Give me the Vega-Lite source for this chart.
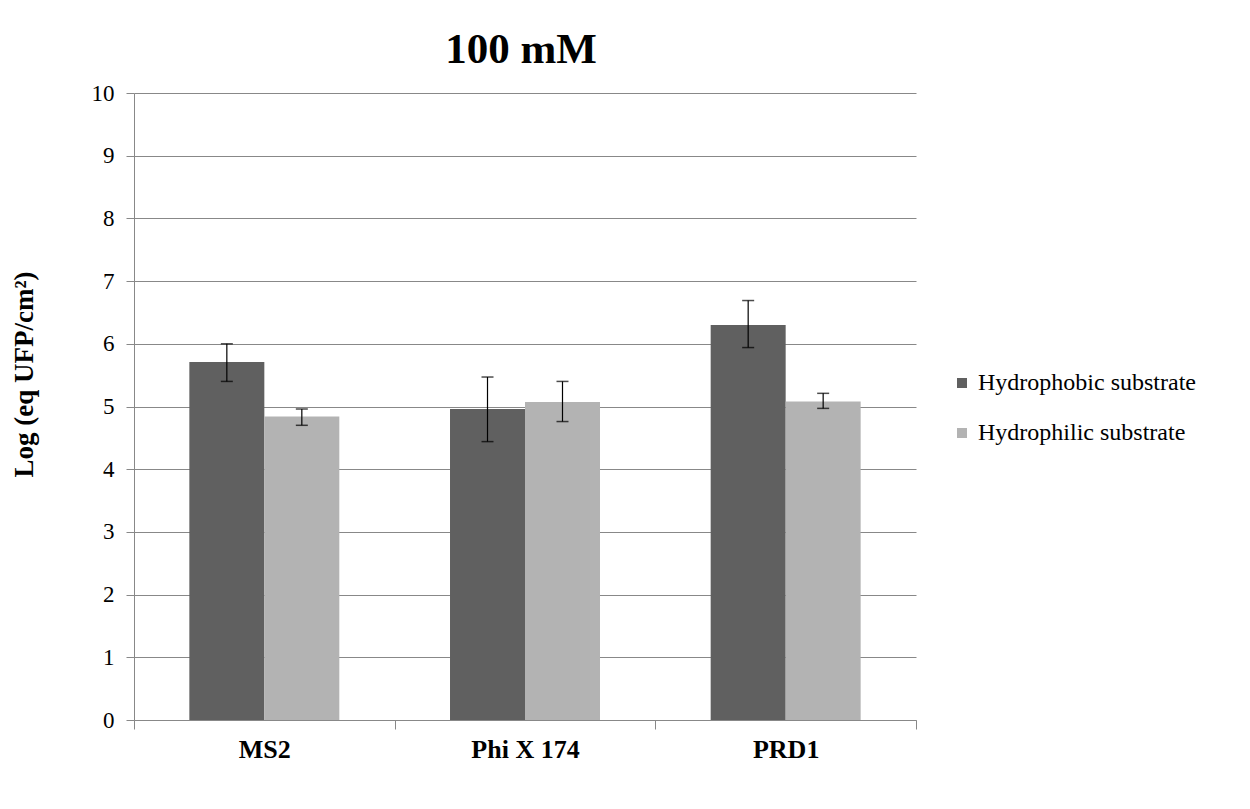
{
  "$schema": "https://vega.github.io/schema/vega-lite/v6.json",
  "width": 782,
  "height": 627,
  "autosize": {"type": "none"},
  "padding": {"left": 134, "top": 93, "right": 334, "bottom": 89},
  "background": "white",
  "title": {"text": "100 mM", "font": "Liberation Serif", "fontSize": 43, "fontWeight": "bold", "color": "black", "offset": 10, "anchor": "middle", "dx": -4},
  "data": {"values": [
    {"virus": "MS2", "substrate": "Hydrophobic substrate", "value": 5.71, "lo": 5.40, "hi": 6.00},
    {"virus": "MS2", "substrate": "Hydrophilic substrate", "value": 4.84, "lo": 4.70, "hi": 4.96},
    {"virus": "Phi X 174", "substrate": "Hydrophobic substrate", "value": 4.96, "lo": 4.44, "hi": 5.47},
    {"virus": "Phi X 174", "substrate": "Hydrophilic substrate", "value": 5.07, "lo": 4.76, "hi": 5.40},
    {"virus": "PRD1", "substrate": "Hydrophobic substrate", "value": 6.30, "lo": 5.94, "hi": 6.69},
    {"virus": "PRD1", "substrate": "Hydrophilic substrate", "value": 5.08, "lo": 4.97, "hi": 5.21}
  ]},
  "encoding": {
    "x": {"field": "virus", "type": "nominal", "sort": ["MS2", "Phi X 174", "PRD1"],
      "scale": {"paddingInner": 0, "paddingOuter": 0},
      "axis": {"title": null, "labelAngle": 0, "labelFont": "Liberation Serif", "labelFontSize": 26, "labelFontWeight": "bold", "labelColor": "black", "labelPadding": 7, "tickBand": "extent", "tickSize": 9, "tickColor": "#888888", "domainColor": "#888888", "grid": false}},
    "xOffset": {"field": "substrate", "type": "nominal", "sort": ["Hydrophobic substrate", "Hydrophilic substrate"], "scale": {"paddingInner": 0, "paddingOuter": 0.738}}
  },
  "layer": [
    {
      "mark": {"type": "bar"},
      "encoding": {
        "y": {"field": "value", "type": "quantitative", "scale": {"domain": [0, 10]},
          "axis": {"title": "Log (eq UFP/cm²)", "titleFont": "Liberation Serif", "titleFontSize": 27, "titleFontWeight": "bold", "titleColor": "black", "titleX": -96, "titleY": 281, "titleAngle": -90,
            "labelFont": "Liberation Serif", "labelFontSize": 23, "labelColor": "black", "labelPadding": 12, "tickCount": 10, "tickSize": 8, "tickColor": "#888888", "domainColor": "#888888", "gridColor": "#888888", "gridWidth": 1}},
        "color": {"field": "substrate", "type": "nominal", "sort": ["Hydrophobic substrate", "Hydrophilic substrate"],
          "scale": {"range": ["#606060", "#b3b3b3"]},
          "legend": {"title": null, "orient": "none", "legendX": 816, "legendY": 278, "labelFont": "Liberation Serif", "labelFontSize": 24, "labelColor": "black", "labelLimit": 0, "symbolType": "square", "symbolSize": 100, "symbolStrokeWidth": 0, "rowPadding": 26, "labelOffset": 4}}
      }
    },
    {
      "mark": {"type": "rule", "color": "black", "strokeWidth": 1.2},
      "encoding": {"y": {"field": "lo", "type": "quantitative"}, "y2": {"field": "hi"}}
    },
    {
      "mark": {"type": "tick", "color": "black", "size": 12, "thickness": 1.5, "orient": "horizontal"},
      "encoding": {"y": {"field": "lo", "type": "quantitative"}}
    },
    {
      "mark": {"type": "tick", "color": "black", "size": 12, "thickness": 1.5, "orient": "horizontal"},
      "encoding": {"y": {"field": "hi", "type": "quantitative"}}
    }
  ],
  "config": {"view": {"stroke": null}}
}
